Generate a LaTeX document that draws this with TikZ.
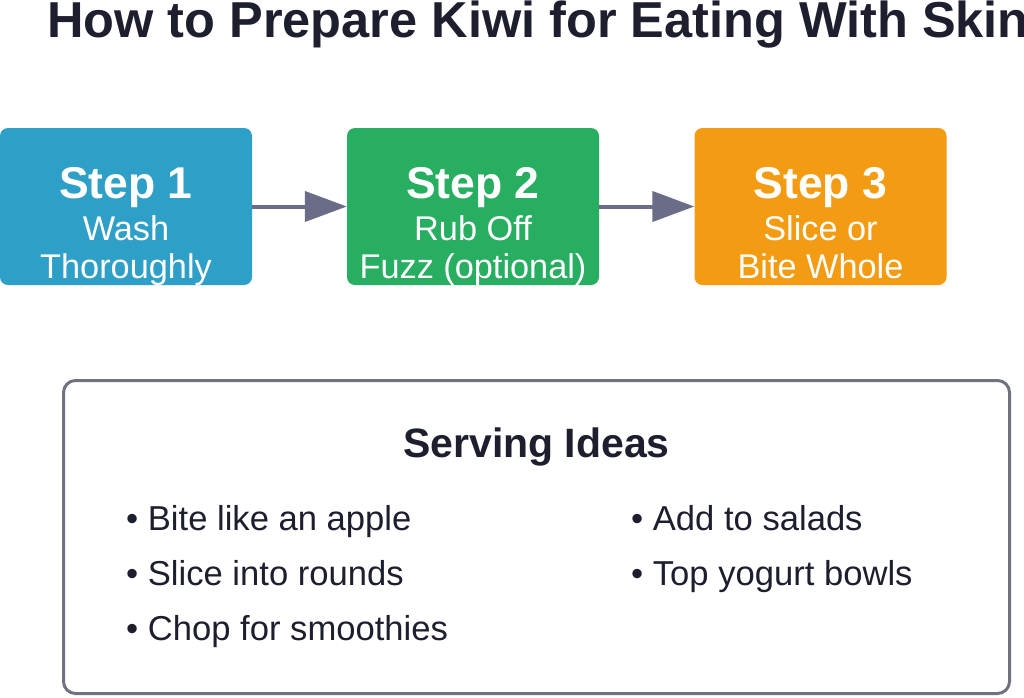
\documentclass[tikz,border=0pt]{standalone}
\usepackage{fontspec}
\setmainfont{Liberation Sans}
\usetikzlibrary{arrows.meta}
\definecolor{cblue}{HTML}{2E9FC6}
\definecolor{cgreen}{HTML}{27AE60}
\definecolor{corange}{HTML}{F39C13}
\definecolor{carrow}{HTML}{6B6D88}
\definecolor{cdark}{HTML}{1E1F2E}
\definecolor{cborder}{HTML}{70737F}
\tikzset{
  stepbox/.style={draw=none, rounded corners=8pt, minimum width=252pt, minimum height=157pt, inner sep=0pt},
  steptitle/.style={font=\fontsize{44.5}{44.5}\selectfont\bfseries, text=white, anchor=base, inner sep=0pt},
  steptext/.style={font=\fontsize{34.3}{34.3}\selectfont, text=white, anchor=base, inner sep=0pt},
  flow/.style={draw=carrow, line width=4pt, -{Triangle[length=42pt,width=30pt]}},
  bullet/.style={font=\fontsize{34.6}{34.6}\selectfont, text=cdark, anchor=base west, inner sep=0pt}
}
\begin{document}
\begin{tikzpicture}[x=1pt,y=-1pt]
\useasboundingbox[fill=white] (0,0) rectangle (1024,697);
\node[font=\fontsize{50.5}{50.5}\selectfont\bfseries, text=cdark, anchor=base west, inner sep=0pt] (title) at (47,37) {How to Prepare Kiwi for Eating With Skin};
\node[stepbox, fill=cblue] (s1) at (126,206.5) {};
\node[stepbox, fill=cgreen] (s2) at (473,206.5) {};
\node[stepbox, fill=corange] (s3) at (820.5,206.5) {};
\node[steptitle] (s1a) at (126,198) {Step 1};
\node[steptext] (s1b) at (126,240) {Wash};
\node[steptext] (s1c) at (126,278) {Thoroughly};
\node[steptitle] (s2a) at (473,198) {Step 2};
\node[steptext] (s2b) at (473,240) {Rub Off};
\node[steptext] (s2c) at (473,278) {Fuzz (optional)};
\node[steptitle] (s3a) at (820.5,198) {Step 3};
\node[steptext] (s3b) at (820.5,240) {Slice or};
\node[steptext] (s3c) at (820.5,278) {Bite Whole};
\draw[flow] (s1.east) -- (s2.west);
\draw[flow] (s2.east) -- (s3.west);
\node[draw=cborder, line width=3pt, rounded corners=12pt, minimum width=946pt, minimum height=313pt, inner sep=0pt] (ideas) at (536.5,537) {};
\node[font=\fontsize{41}{41}\selectfont\bfseries, text=cdark, anchor=base, inner sep=0pt] (ideash) at (536.5,457) {Serving Ideas};
\node[bullet] (b1) at (126,530) {• Bite like an apple};
\node[bullet] (b2) at (126,585) {• Slice into rounds};
\node[bullet] (b3) at (126,640) {• Chop for smoothies};
\node[bullet] (b4) at (631,530) {• Add to salads};
\node[bullet] (b5) at (631,585) {• Top yogurt bowls};
\end{tikzpicture}
\end{document}
